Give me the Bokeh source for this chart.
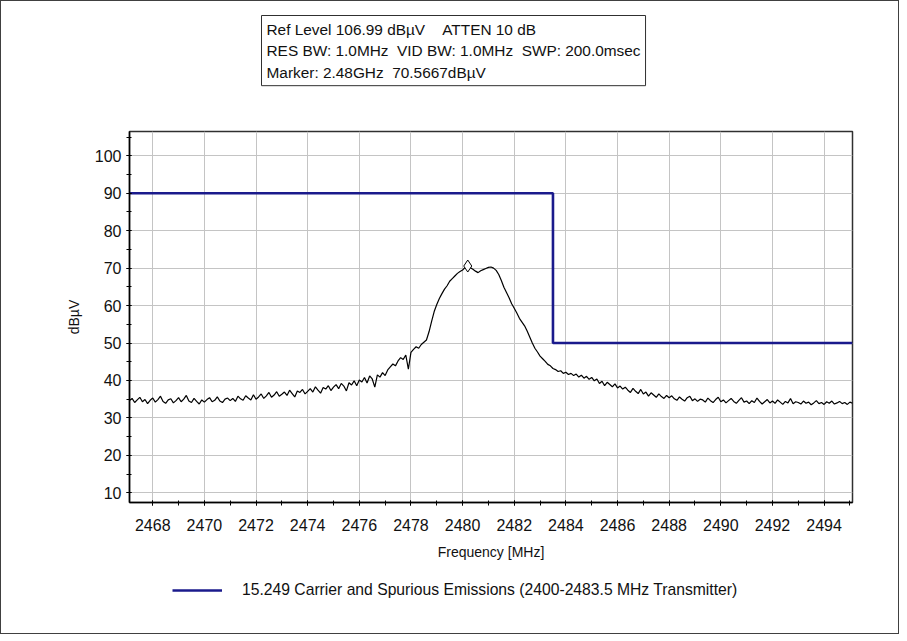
from bokeh.plotting import figure
from bokeh.layouts import column
from bokeh.models import Legend, LegendItem, SingleIntervalTicker, Range1d, Label
from bokeh.embed import file_html
from bokeh.resources import INLINE

# ---------------- data ----------------
freq_start = 2467.1   # MHz
freq_step = 0.1       # MHz
trace_level = [
    34.6, 35.2, 34.1, 34.8, 35.5, 34.3, 34.9, 33.8, 34.7, 35.3,
    34.2, 34.9, 35.8, 34.4, 33.9, 34.8, 35.1, 34.0, 34.6, 35.4,
    34.3, 35.0, 36.0, 34.5, 34.1, 35.2, 34.4, 33.7, 34.8, 34.2,
    34.9, 35.4, 34.3, 34.7, 35.6, 34.5, 34.1, 35.0, 35.3, 34.6,
    35.2, 34.4, 35.8, 35.1, 34.7, 35.9, 35.3, 34.8, 36.2, 35.0,
    35.6, 36.4, 35.2, 35.9, 36.8, 35.5, 36.1, 37.0, 35.8, 36.3,
    36.9, 36.0, 37.4, 36.5, 35.6, 37.2, 36.8, 37.6, 36.4, 37.1,
    37.8, 36.9, 38.3, 37.4, 36.6, 38.1, 37.7, 38.6, 37.3, 38.2,
    38.9, 37.8, 39.2, 38.5, 37.2, 39.4, 38.8, 39.9, 38.6, 40.1,
    39.6, 40.8, 39.3, 41.2, 40.4, 38.2, 41.5, 40.9, 42.1, 41.3,
    42.8, 43.6, 44.4, 43.9, 45.2, 46.1, 45.6, 46.8, 43.0, 47.5,
    48.3, 49.0, 48.6, 49.6, 50.2, 50.8, 53.0, 55.8, 58.4, 60.3,
    61.9, 63.2, 64.4, 65.3, 66.5, 67.2, 67.9, 68.6, 69.1, 69.5,
    70.2, 70.6, 70.1, 69.7, 69.2, 68.8, 69.3, 69.6, 69.9, 70.2,
    70.3, 70.0, 69.4, 68.3, 66.7, 64.9, 63.5, 62.1, 60.5, 59.3,
    58.0, 56.6, 55.6, 54.6, 53.2, 51.6, 50.0, 48.6, 47.6, 46.5,
    45.8, 45.1, 44.3, 43.9, 43.2, 42.9, 42.4, 42.6, 41.9, 42.2,
    41.6, 41.9, 41.3, 41.7, 40.9, 41.4, 40.6, 41.1, 40.3, 40.8,
    39.9, 40.4, 39.2, 39.8, 38.6, 39.5, 38.9, 38.3, 39.1, 38.0,
    38.5, 37.7, 38.2, 37.4, 36.8, 37.9, 37.1, 36.5, 37.6, 36.4,
    36.9, 35.8, 36.7, 36.1, 35.5, 36.4, 35.7, 35.2, 36.0, 35.4,
    35.9, 35.1, 34.7, 35.6, 35.0, 34.5, 35.4, 35.8, 34.6, 35.1,
    34.4, 35.0, 34.8, 34.2, 35.3, 34.6, 34.1, 34.9, 35.5, 34.3,
    34.8, 34.0, 34.6, 35.2, 34.4, 33.9, 34.7, 35.4, 34.2, 34.5,
    33.8, 34.6, 34.1, 35.3, 34.4, 33.7, 34.3, 34.9, 34.0, 34.5,
    33.9, 34.8, 34.2, 33.6, 34.4, 34.0, 35.2, 33.8, 34.3, 34.1,
    33.7, 34.5, 33.9, 34.2, 33.5, 34.0, 34.6, 33.8, 34.1, 33.6,
    34.3, 33.9, 34.5, 33.7, 34.0, 34.4, 33.8, 34.1, 33.6, 34.2, 33.9,
]
trace_freq = [round(freq_start + i * freq_step, 2) for i in range(len(trace_level))]

limit_freq = [2467.1, 2483.5, 2483.5, 2495.1]
limit_level = [90, 90, 50, 50]
limit_name = "15.249 Carrier and Spurious Emissions (2400-2483.5 MHz Transmitter)"

marker_freq = [2480.2]
marker_level = [70.5667]

NB = "\u00a0"
header_lines = [
    "Ref Level 106.99 dB\u00b5V" + NB * 4 + "ATTEN 10 dB",
    "RES BW: 1.0MHz" + NB * 2 + "VID BW: 1.0MHz" + NB * 2 + "SWP: 200.0msec",
    "Marker: 2.48GHz" + NB * 2 + "70.5667dB\u00b5V",
]
x_label = "Frequency [MHz]"
y_label = "dB\u00b5V"

FONT = "Liberation Sans"
W = 897
HEAD_H, MAIN_H, LEG_H = 124, 445, 63
LIMIT_COLOR = "#1a1a8c"


def blank(height):
    f = figure(width=W, height=height, title=None,
               x_range=Range1d(0, 1), y_range=Range1d(0, 1),
               x_axis_location=None, y_axis_location=None,
               output_backend="svg", toolbar_location=None,
               min_border=0, outline_line_color=None,
               background_fill_color="white", border_fill_color="white")
    f.xgrid.visible = False
    f.ygrid.visible = False
    return f


# ---------------- header (frame is aligned with the chart frame) ----------------
head = blank(HEAD_H)
header = Label(x=132, y=HEAD_H - 14, x_units="screen", y_units="screen",
               text="\n".join(header_lines), anchor="top_left",
               text_font=FONT, text_font_size="15.4px", text_color="#111111",
               text_line_height=1.27, padding=5,
               border_line_color="#303030", border_line_width=1,
               background_fill_color="white")
head.add_layout(header)

# ---------------- main chart ----------------
p = figure(width=W, height=MAIN_H, title=None,
           x_range=Range1d(2467.1, 2495.1), y_range=Range1d(7.4, 106.5),
           output_backend="svg", toolbar_location=None,
           min_border_left=128, min_border_right=46,
           min_border_top=6, min_border_bottom=68,
           background_fill_color="white", border_fill_color="white")

p.outline_line_color = "#303030"
p.outline_line_width = 1.5

p.xaxis.ticker = SingleIntervalTicker(interval=2, num_minor_ticks=2)
p.yaxis.ticker = SingleIntervalTicker(interval=10, num_minor_ticks=2)

for ax in (p.xaxis, p.yaxis):
    ax.axis_line_color = "black"
    ax.axis_line_width = 1.5
    ax.major_tick_line_color = "black"
    ax.minor_tick_line_color = "black"
    ax.major_tick_in = 2
    ax.major_tick_out = 3
    ax.minor_tick_in = 2
    ax.minor_tick_out = 3
    ax.major_label_text_font = FONT
    ax.major_label_text_font_size = "16px"
    ax.major_label_text_color = "#111111"
    ax.axis_label_text_font = FONT
    ax.axis_label_text_font_size = "14px"
    ax.axis_label_text_font_style = "normal"
    ax.axis_label_text_color = "#111111"

p.xaxis.axis_label = x_label
p.yaxis.axis_label = y_label
p.xaxis.major_label_standoff = 13
p.xaxis.axis_label_standoff = 10
p.yaxis.major_label_standoff = 5
p.yaxis.axis_label_standoff = 10

p.xgrid.grid_line_color = "#c4c4c4"
p.ygrid.grid_line_color = "#c4c4c4"

p.line(trace_freq, trace_level, line_color="black", line_width=1.2)
p.line(limit_freq, limit_level, line_color=LIMIT_COLOR, line_width=2.6)
p.scatter(marker_freq, marker_level, marker="diamond", size=12,
          fill_color="white", line_color="black", line_width=1)

# ---------------- legend strip ----------------
leg = blank(LEG_H)
# same limit series; the strip's 0..1 ranges keep it out of view, it only feeds the legend
leg_r = leg.line(limit_freq, limit_level, line_color=LIMIT_COLOR, line_width=2.6)
legend = Legend(items=[LegendItem(label=limit_name, renderers=[leg_r])],
                location=(43, 33), orientation="horizontal",
                glyph_width=50, glyph_height=20, label_standoff=20,
                margin=0, padding=0, border_line_color=None,
                background_fill_alpha=0,
                label_text_font=FONT, label_text_font_size="15.7px",
                label_text_color="#111111")
leg.add_layout(legend)

layout = column(head, p, leg, spacing=0,
                styles={"border": "1px solid #404040"})

open("out.html", "w").write(file_html(layout, INLINE))
